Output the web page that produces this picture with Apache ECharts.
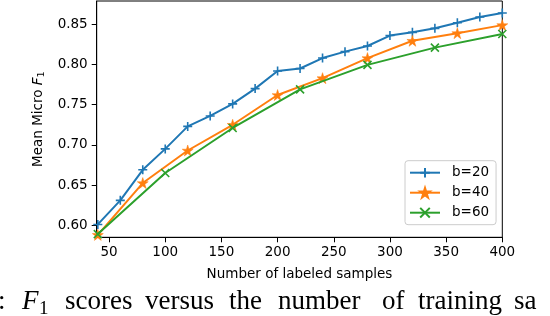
<!DOCTYPE html>
<html><head><meta charset="utf-8">
<script src="https://cdn.jsdelivr.net/npm/echarts@6/dist/echarts.min.js"></script>
<style>html,body{margin:0;padding:0;background:#fff}#c{width:550px;height:316px}</style>
</head><body><div id="c"></div>
<script>
// ---- data ----
const xB20 = [40,60,80,100,120,140,160,180,200,220,240,260,280,300,320,340,360,380,400];
const valB20 = [0.601,0.631,0.669,0.695,0.723,0.736,0.751,0.770,0.792,0.795,0.808,0.816,0.823,0.836,0.840,0.845,0.852,0.859,0.864];
const xB40 = [40,80,120,160,200,240,280,320,360,400];
const valB40 = [0.588,0.6525,0.693,0.725,0.762,0.783,0.808,0.8295,0.839,0.849];
const xB60 = [40,100,160,220,280,340,400];
const valB60 = [0.589,0.665,0.721,0.769,0.7995,0.821,0.838];
const seriesNames = ['b=20','b=40','b=60'];
const xTicks = [50,100,150,200,250,300,350,400];
const yTicks = [0.60,0.65,0.70,0.75,0.80,0.85];
const xTitle = 'Number of labeled samples';
const captionWords = [
  {t:'r:', x:-11, f:'n'},
  {t:'F', x:22, f:'i'},
  {t:'1', x:39, f:'s'},
  {t:'scores', x:65, f:'n'},
  {t:'versus', x:145, f:'n'},
  {t:'the', x:229, f:'n'},
  {t:'number', x:278, f:'n'},
  {t:'of', x:382, f:'n'},
  {t:'training', x:418, f:'n'},
  {t:'sa', x:514, f:'n'}
];

const colors = ['#1f77b4','#ff7f0e','#2ca02c'];
const SANS = 'DejaVu Sans';
const plusPath = 'path://M5,0L5,10M0,5L10,5';
const starPath = 'path://M50,0L61.2,34.5L97.6,34.5L68.2,55.9L79.4,90.5L50,69.1L20.6,90.5L31.8,55.9L2.4,34.5L38.8,34.5Z';
const crossPath = 'path://M0,0L10,10M0,10L10,0';

function zip(xs, ys){ return xs.map((x,i)=>[x, ys[i]]); }

const chart = echarts.init(document.getElementById('c'), null, {renderer:'canvas'});
const option = {
  animation: false,
  backgroundColor: '#fff',
  grid: {left: 96.7, right: 47.7, top: 1, bottom: 78.7, show: true, borderColor: '#000', borderWidth: 1, backgroundColor: 'transparent'},
  xAxis: {
    type: 'value', min: 39, max: 400,
    name: xTitle, nameLocation: 'middle', nameGap: 30,
    nameTextStyle: {fontFamily: SANS, fontSize: 13.5, color: '#000'},
    axisLine: {show: true, lineStyle: {color: '#000', width: 1}},
    axisTick: {show: true, length: 5, lineStyle: {color: '#000'}, customValues: xTicks},
    axisLabel: {fontFamily: SANS, fontSize: 13.5, color: '#000', margin: 8, customValues: xTicks},
    splitLine: {show: false}
  },
  yAxis: {
    type: 'value', min: 0.585, max: 0.879,
    name: '{a|Mean Micro }{i|F}{s|1}', nameLocation: 'middle', nameGap: 47,
    nameTextStyle: {fontFamily: SANS, fontSize: 13.5, color: '#000',
      rich: {
        a: {fontFamily: SANS, fontSize: 13.5, color: '#000'},
        i: {fontFamily: SANS, fontSize: 13.5, fontStyle: 'italic', color: '#000'},
        s: {fontFamily: SANS, fontSize: 9.5, color: '#000', padding: [7,0,0,0]}
      }},
    axisLine: {show: true, lineStyle: {color: '#000', width: 1}},
    axisTick: {show: true, length: 5, lineStyle: {color: '#000'}, customValues: yTicks},
    axisLabel: {fontFamily: SANS, fontSize: 13.5, color: '#000', margin: 9, customValues: yTicks,
      formatter: v => v.toFixed(2)},
    splitLine: {show: false}
  },
  legend: {
    orient: 'vertical', left: 405, top: 160.7,
    itemWidth: 30, itemHeight: 12, itemGap: 6,
    padding: [5, 7, 5, 4],
    borderColor: '#cccccc', borderWidth: 1, borderRadius: 3, backgroundColor: '#fff',
    textStyle: {fontFamily: SANS, fontSize: 13.5, color: '#000', padding: [0,0,0,7]},
    data: seriesNames
  },
  series: [
    {name: seriesNames[0], type: 'line', data: zip(xB20, valB20), clip: true,
     symbol: plusPath, symbolSize: 9,
     lineStyle: {color: colors[0], width: 2}, itemStyle: {color: colors[0], borderColor: colors[0], borderWidth: 1.6},
     emphasis: {disabled: true}, z: 3},
    {name: seriesNames[1], type: 'line', data: zip(xB40, valB40), clip: true,
     symbol: starPath, symbolSize: 11,
     lineStyle: {color: colors[1], width: 2}, itemStyle: {color: colors[1], borderColor: colors[1], borderWidth: 0.5},
     emphasis: {disabled: true}, z: 4},
    {name: seriesNames[2], type: 'line', data: zip(xB60, valB60), clip: true,
     symbol: crossPath, symbolSize: 8,
     lineStyle: {color: colors[2], width: 2}, itemStyle: {color: colors[2], borderColor: colors[2], borderWidth: 1.6},
     emphasis: {disabled: true}, z: 5}
  ],
  graphic: captionWords.map(w => ({
    type: 'text', x: w.x, y: w.f === 's' ? 319 : 315,
    style: {
      text: w.t,
      fontFamily: 'Liberation Serif',
      fontStyle: w.f === 'i' ? 'italic' : 'normal',
      fontSize: w.f === 's' ? 19 : 27,
      fill: '#000',
      textBaseline: 'alphabetic', textVerticalAlign: 'bottom'
    }
  }))
};
chart.setOption(option);
</script></body></html>
